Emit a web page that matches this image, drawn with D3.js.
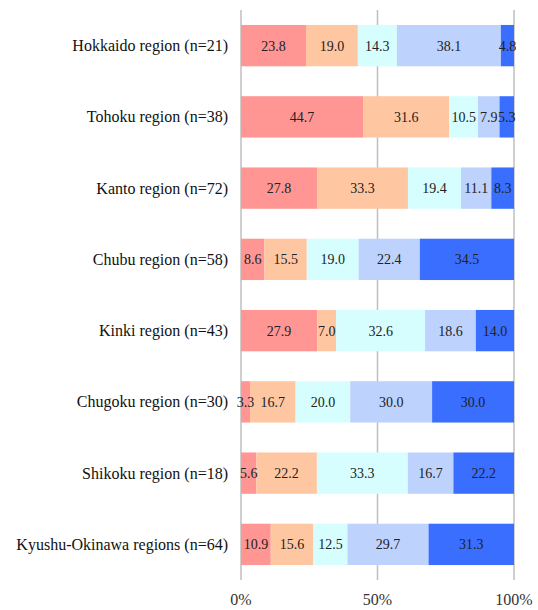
<!DOCTYPE html>
<html><head><meta charset="utf-8">
<script src="https://cdn.jsdelivr.net/npm/d3@7"></script>
<style>body{margin:0;background:#fff}svg{display:block}text{font-family:"Liberation Serif","Times New Roman",serif}</style>
</head><body><svg id="c" width="538" height="610"></svg>
<script>
const categories = ["Hokkaido region (n=21)","Tohoku region (n=38)","Kanto region (n=72)","Chubu region (n=58)","Kinki region (n=43)","Chugoku region (n=30)","Shikoku region (n=18)","Kyushu-Okinawa regions (n=64)"];
const s1 = [23.8,44.7,27.8,8.6,27.9,3.3,5.6,10.9];
const s2 = [19.0,31.6,33.3,15.5,7.0,16.7,22.2,15.6];
const s3 = [14.3,10.5,19.4,19.0,32.6,20.0,33.3,12.5];
const s4 = [38.1,7.9,11.1,22.4,18.6,30.0,16.7,29.7];
const s5 = [4.8,5.3,8.3,34.5,14.0,30.0,22.2,31.3];
const tickValues = [0,50,100];
const tickLabels = ["0%","50%","100%"];
const series = [s1,s2,s3,s4,s5];
const colors = ["#FF9694","#FFC7A1","#D6FEFF","#BED2FE","#3A6EFF"];

const svg = d3.select("#c");
const x = d3.scaleLinear().domain([0,100]).range([241,514]);
const y = d3.scaleBand().domain(categories).range([10,580]).paddingInner(0.42).paddingOuter(0.21);

// gridlines
svg.append("g").selectAll("line").data(tickValues).join("line")
  .attr("x1",d=>x(d)).attr("x2",d=>x(d)).attr("y1",10).attr("y2",580)
  .attr("stroke","#BFBFBF").attr("stroke-width",1.5);

const rows = categories.map((c,i)=>{
  let acc=0;
  const tot = series.reduce((a,s)=>a+s[i],0);
  return series.map((s,k)=>{const v=s[i]; const seg={c,k,v,x0:acc*100/tot,x1:(acc+v)*100/tot}; acc+=v; return seg;});
}).flat();

svg.append("g").selectAll("rect").data(rows).join("rect")
  .attr("x",d=>x(d.x0)).attr("width",d=>x(d.x1)-x(d.x0))
  .attr("y",d=>y(d.c)).attr("height",y.bandwidth())
  .attr("fill",d=>colors[d.k]);

svg.append("g").selectAll("text").data(rows).join("text")
  .attr("x",d=>(x(d.x0)+x(d.x1))/2).attr("y",d=>y(d.c)+y.bandwidth()/2+5)
  .attr("text-anchor","middle").attr("font-size",14).attr("fill","#222")
  .text(d=>d.v.toFixed(1));

svg.append("g").selectAll("text").data(categories).join("text")
  .attr("x",228).attr("y",d=>y(d)+y.bandwidth()/2+5.5)
  .attr("text-anchor","end").attr("font-size",16).attr("fill","#111")
  .text(d=>d);

svg.append("g").selectAll("text").data(tickValues).join("text")
  .attr("x",d=>x(d)).attr("y",605)
  .attr("text-anchor","middle").attr("font-size",16).attr("fill","#333")
  .text((d,i)=>tickLabels[i]);
</script></body></html>
